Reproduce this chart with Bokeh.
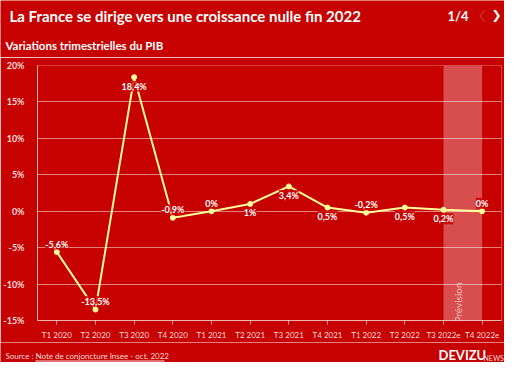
import math
from bokeh.plotting import figure
from bokeh.layouts import column
from bokeh.models import (ColumnDataSource, LabelSet, Label, BoxAnnotation, FactorRange,
                          Range1d, FixedTicker, PrintfTickFormatter)
from bokeh.core.properties import value
from bokeh.embed import file_html
from bokeh.resources import INLINE

# ---- data ----
quarters = ["T1 2020", "T2 2020", "T3 2020", "T4 2020", "T1 2021", "T2 2021",
            "T3 2021", "T4 2021", "T1 2022", "T2 2022", "T3 2022e", "T4 2022e"]
growth = [-5.6, -13.5, 18.4, -0.9, 0.0, 1.0, 3.4, 0.5, -0.2, 0.5, 0.2, 0.0]
y_ticks = [-15, -10, -5, 0, 5, 10, 15, 20]
forecast_quarters = ["T3 2022e", "T4 2022e"]

title_text = "La France se dirige vers une croissance nulle fin 2022"
subtitle_text = "Variations trimestrielles du PIB"
page_text = "1/4"
source_prefix = "Source : "
source_link = "Note de conjoncture Insee - oct. 2022"

# ---- style ----
BG = "#c70000"
FONT = "Lato"
LINE = "#ffff99"
LIGHT = "#f6dada"
W = 504


def fmt(v):
    return f"{v:g}".replace(".", ",") + "%"


def blank_fig(h):
    f = figure(width=W, height=h, x_range=Range1d(0, W), y_range=Range1d(h, 0),
               output_backend="svg", toolbar_location=None, frame_align=False,
               min_border=0, min_border_left=0, min_border_right=0,
               min_border_top=0, min_border_bottom=0)
    f.axis.visible = False
    f.grid.visible = False
    f.background_fill_color = BG
    f.border_fill_color = BG
    f.outline_line_color = None
    return f


def txt(f, x, y, text, size, style="normal", color="white", alpha=1.0, align="left",
        font=FONT):
    f.text(x=[x], y=[y], text=[text], text_font=value(font), text_font_size=size,
           text_font_style=style, text_color=color, text_alpha=alpha,
           text_align=align, text_baseline="middle")


# ---- header ----
HEAD_H = 57
head = blank_fig(HEAD_H)
txt(head, 9, 15, title_text, "15px", "bold")
txt(head, 447, 15, page_text, "13px", "bold")
txt(head, 477, 14, "❮", "12px", "bold", alpha=0.15, font="DejaVu Sans")
txt(head, 491, 14, "❯", "12px", "bold", font="DejaVu Sans")
txt(head, 5, 45, subtitle_text, "11.5px", "bold")

# ---- main chart ----
labels = [fmt(v) for v in growth]
offsets = [8 if v <= 0 else -9 for v in growth]
src = ColumnDataSource(dict(q=quarters, v=growth, lab=labels, off=offsets))

MAIN_H = 285
p = figure(width=W, height=MAIN_H, x_range=FactorRange(*quarters, range_padding=0),
           y_range=Range1d(y_ticks[0], y_ticks[-1]),
           output_backend="svg", toolbar_location=None, frame_align=False,
           min_border_left=33, min_border_right=3, min_border_top=8, min_border_bottom=16)
p.background_fill_color = BG
p.border_fill_color = BG
p.outline_line_color = None

p.xgrid.grid_line_color = None
p.ygrid.grid_line_color = "white"
p.ygrid.grid_line_alpha = 0.5
p.ygrid.grid_line_width = 1

i0 = quarters.index(forecast_quarters[0]) + 0.5
i1 = quarters.index(forecast_quarters[1]) + 0.5
band = BoxAnnotation(left=i0, right=i1, fill_color="white", fill_alpha=0.3,
                     line_color=None, level="underlay")
p.add_layout(band)
p.add_layout(Label(x=i0, y=y_ticks[0], x_offset=14, y_offset=-2, angle=math.pi / 2,
                   text="Prévision", text_font=FONT, text_font_size="10px",
                   text_color="white", text_alpha=0.6, text_align="left",
                   text_baseline="middle"))

p.yaxis.ticker = FixedTicker(ticks=y_ticks)
p.yaxis.formatter = PrintfTickFormatter(format="%d%%")
p.yaxis.major_label_text_font = FONT
p.yaxis.major_label_text_font_size = "9px"
p.yaxis.major_label_text_font_style = "bold"
p.yaxis.major_label_text_color = LIGHT
p.yaxis.major_tick_line_color = None
p.yaxis.minor_tick_line_color = None
p.yaxis.axis_line_color = "white"
p.yaxis.axis_line_alpha = 0.6
p.yaxis.major_label_standoff = 7

p.xaxis.major_label_text_font = FONT
p.xaxis.major_label_text_font_size = "8px"
p.xaxis.major_label_text_color = LIGHT
p.xaxis.major_tick_line_color = "white"
p.xaxis.major_tick_line_alpha = 0.6
p.xaxis.major_tick_in = 0
p.xaxis.major_tick_out = 4
p.xaxis.axis_line_color = "white"
p.xaxis.axis_line_alpha = 0.6
p.xaxis.major_label_standoff = 5

p.line("q", "v", source=src, line_color=LINE, line_width=2)
p.scatter("q", "v", source=src, size=5, fill_color=LINE, line_color=LINE)

p.add_layout(LabelSet(x="q", y="v", text="lab", y_offset="off", source=src,
                      text_font=value(FONT), text_font_size="9px", text_font_style="bold",
                      text_color="white", text_align="center", text_baseline="middle",
                      background_fill_color=BG, background_fill_alpha=0.8))

# ---- footer ----
FOOT_H = 362 - HEAD_H - MAIN_H
foot = blank_fig(FOOT_H)
txt(foot, 5, 13, source_prefix, "8px", color=LIGHT)
txt(foot, 35, 13, source_link, "8px", color=LIGHT)
foot.segment(x0=[35], y0=[18.5], x1=[164], y1=[18.5], line_color=LIGHT, line_width=1)
txt(foot, 438, 12, "DEVIZU", "13px", "bold")
txt(foot, 483, 15, "NEWS", "7px", color=LIGHT)

layout = column(head, p, foot, spacing=0)
open("out.html", "w").write(file_html(layout, INLINE))
